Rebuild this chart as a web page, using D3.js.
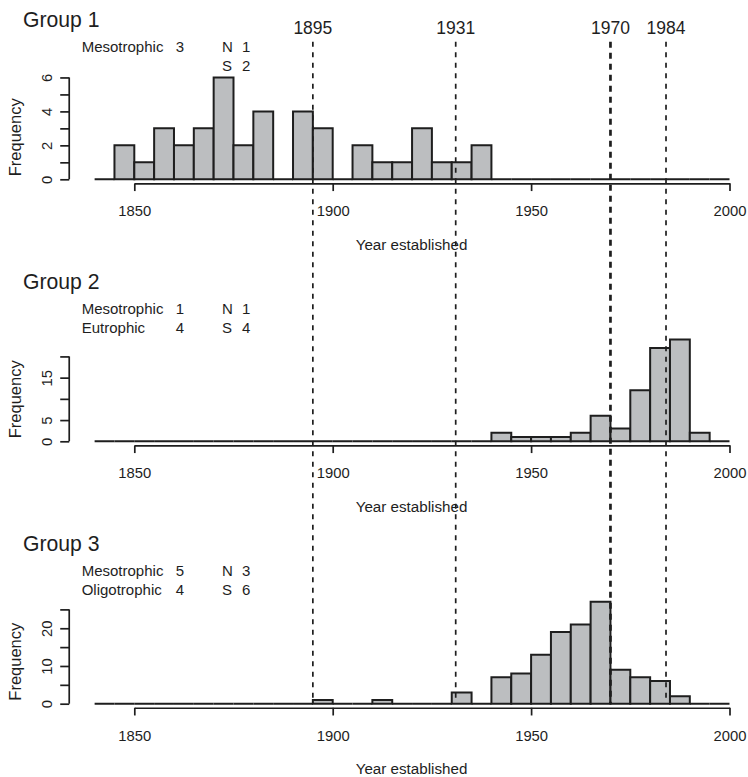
<!DOCTYPE html>
<html>
<head>
<meta charset="utf-8">
<script src="https://cdn.jsdelivr.net/npm/d3@7"></script>
<style>
  body { margin: 0; background: #fff; }
  text { font-family: "Liberation Sans", Arial, sans-serif; fill: #1e1e1e; }
</style>
</head>
<body>
<svg id="chart" width="748" height="777"></svg>
<script>
// bin starts, 5-year bins from 1840 to 2000
var binStarts = d3.range(1840, 2000, 5);
var binWidth = 5;

// counts per bin
var group1Counts = [0,2,1,3,2,3,6,2,4,0,4,3,0,2,1,1,3,1,1,2,0,0,0,0,0,0,0,0,0,0,0,0];
var group2Counts = [0,0,0,0,0,0,0,0,0,0,0,0,0,0,0,0,0,0,0,0,2,1,1,1,2,6,3,12,22,24,2,0];
var group3Counts = [0,0,0,0,0,0,0,0,0,0,0,1,0,0,1,0,0,0,3,0,7,8,13,19,21,27,9,7,6,2,0,0];

var groupNames = ["Group 1", "Group 2", "Group 3"];

// y ticks and the ones that carry labels
var group1YTicks = [0,1,2,3,4,5,6],        group1YLabels = [0,2,4,6];
var group2YTicks = [0,5,10,15,20],         group2YLabels = [0,5,15];
var group3YTicks = [0,5,10,15,20,25],      group3YLabels = [0,10,20];

var xTicks = [1850, 1900, 1950, 2000];

// annotation rows: trophic label, count, direction letter, direction count
var group1Notes = [["Mesotrophic", "3", "N", "1"], ["", "", "S", "2"]];
var group2Notes = [["Mesotrophic", "1", "N", "1"], ["Eutrophic", "4", "S", "4"]];
var group3Notes = [["Mesotrophic", "5", "N", "3"], ["Oligotrophic", "4", "S", "6"]];

// reference years drawn across all panels
var cutYears = [1895, 1931, 1970, 1984];
var thickYears = [1970];

var panels = [
    {name: groupNames[0], counts: group1Counts, ticks: group1YTicks, labels: group1YLabels, notes: group1Notes},
    {name: groupNames[1], counts: group2Counts, ticks: group2YTicks, labels: group2YLabels, notes: group2Notes},
    {name: groupNames[2], counts: group3Counts, ticks: group3YTicks, labels: group3YLabels, notes: group3Notes}
];

// layout
var baselines = [179.3, 441.3, 703.7];
var plotHeight = 110;
var ink = "#1e1e1e";
var barFill = "#bcbec0";
var font = "Liberation Sans, Arial, sans-serif";

var svg = d3.select("#chart");

var x = d3.scaleLinear().domain([1850, 2000]).range([134.3, 729.5]);
var yAxisX = x(1833.6);

var drawPanel = function(panel, base) {
    var maxCount = d3.max(panel.counts);
    var y = d3.scaleLinear().domain([0, maxCount]).range([base, base - plotHeight / 1.08]);
    var g = svg.append("g");

    // bars, zero bins included so they show as a flat line like R's hist
    g.selectAll("path.bar")
        .data(panel.counts)
        .enter()
        .append("path")
            .attr("class", "bar")
            .attr("d", function(d, i) {
                var x0 = x(binStarts[i]), x1 = x(binStarts[i] + binWidth);
                return "M" + x0 + "," + y(0) + "V" + y(d) + "H" + x1 + "V" + y(0) + "Z";
            })
            .attr("fill", barFill)
            .attr("stroke", ink)
            .attr("stroke-width", 2);

    // x axis sits at the bottom of the plot region (4% below zero)
    var axisY = base + 0.04 * plotHeight / 1.08;
    var xAxis = g.append("g")
        .attr("transform", "translate(0," + axisY + ")")
        .call(d3.axisBottom(x).tickValues(xTicks).tickSize(7.7).tickSizeOuter(0).tickFormat(d3.format("d")));
    xAxis.selectAll("path, line").attr("stroke", ink).attr("stroke-width", 1.7);
    xAxis.selectAll("text")
        .attr("y", 27.6)
        .attr("dy", "0.35em")
        .attr("font-size", 14.8)
        .attr("font-family", font)
        .attr("fill", ink);

    // y axis: line only as far as the last tick
    var yAxis = g.append("g")
        .attr("transform", "translate(" + yAxisX + ",0)")
        .call(d3.axisLeft(y).tickValues(panel.ticks).tickSize(9)
            .tickFormat(function(d) { return panel.labels.indexOf(d) >= 0 ? d : ""; }));
    yAxis.select(".domain").remove();
    yAxis.append("line")
        .attr("x1", 0).attr("x2", 0)
        .attr("y1", y(0)).attr("y2", y(panel.ticks[panel.ticks.length - 1]))
        .attr("stroke", ink).attr("stroke-width", 1.7);
    yAxis.selectAll("line").attr("stroke", ink).attr("stroke-width", 1.7);
    yAxis.selectAll(".tick text")
        .attr("transform", "rotate(-90)")
        .attr("x", 0)
        .attr("y", -22.5)
        .attr("dy", "0.35em")
        .attr("text-anchor", "middle")
        .attr("font-size", 14.8)
        .attr("font-family", font)
        .attr("fill", ink);

    g.append("text")
        .attr("transform", "translate(15," + (base - 42) + ") rotate(-90)")
        .attr("text-anchor", "middle")
        .attr("dy", "0.35em")
        .attr("font-size", 16.5)
        .text("Frequency");

    g.append("text")
        .attr("x", (x(1840) + x(2000)) / 2 - 0.5)
        .attr("y", base + 65)
        .attr("dy", "0.35em")
        .attr("text-anchor", "middle")
        .attr("font-size", 15.2)
        .text("Year established");

    g.append("text")
        .attr("x", 23)
        .attr("y", base - 160)
        .attr("dy", "0.35em")
        .attr("font-size", 21.2)
        .text(panel.name);

    // annotation block
    var cols = [81.7, 175.7, 222, 242];
    panel.notes.forEach(function(row, r) {
        row.forEach(function(cell, c) {
            g.append("text")
                .attr("x", cols[c])
                .attr("y", base - 133 + r * 19)
                .attr("dy", "0.35em")
                .attr("font-size", 15)
                .text(cell);
        });
    });
};

panels.forEach(function(panel, i) {
    drawPanel(panel, baselines[i]);
});

// dashed reference lines over everything
var lines = svg.append("g");
cutYears.forEach(function(year) {
    var thick = thickYears.indexOf(year) >= 0;
    lines.append("line")
        .attr("x1", x(year)).attr("x2", x(year))
        .attr("y1", 41.7).attr("y2", baselines[2])
        .attr("stroke", ink)
        .attr("stroke-width", thick ? 2.7 : 1.7)
        .attr("stroke-dasharray", thick ? "6,5" : "5,5.5");
    lines.append("text")
        .attr("x", x(year))
        .attr("y", 28.3)
        .attr("dy", "0.35em")
        .attr("text-anchor", "middle")
        .attr("font-size", 17.5)
        .text(year);
});
</script>
</body>
</html>
